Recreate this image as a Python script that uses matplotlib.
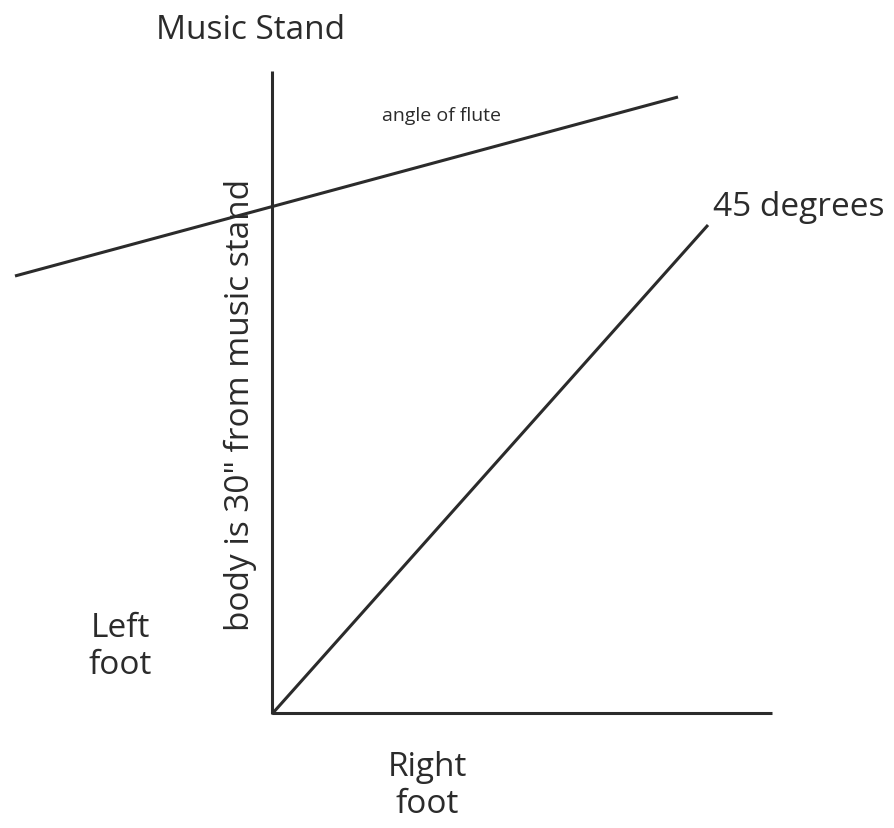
import matplotlib
matplotlib.use('Agg')
import matplotlib.pyplot as plt

# diagram lines in picture pixel coordinates (x, y from top-left)
stand_axis_x = [272, 272]
stand_axis_y = [72, 715]
right_foot_x = [272, 772]
right_foot_y = [714, 714]
diag_x = [272, 708]
diag_y = [715, 226]
flute_x = [15, 678]
flute_y = [277, 98]

labels = {
    'Music Stand': (251, 30),
    'angle of flute': (441, 116),
    '45 degrees': (799, 207),
    'Left\nfoot': (120, 647),
    'Right\nfoot': (427, 786),
}
side_label = 'body is 30" from music stand'

plt.rcParams['font.family'] = ['Open Sans', 'DejaVu Sans']

fig = plt.figure(figsize=(8.94, 8.29), dpi=100)
ax = fig.add_axes([0, 0, 1, 1])
ax.set_xlim(0, 894)
ax.set_ylim(829, 0)
ax.axis('off')

col = '#2b2b2b'
for xs, ys in [(stand_axis_x, stand_axis_y), (right_foot_x, right_foot_y),
               (diag_x, diag_y), (flute_x, flute_y)]:
    ax.plot(xs, ys, color=col, lw=2.2, solid_capstyle='butt')

big = 24
ax.text(*labels['Music Stand'], 'Music Stand', fontsize=big, ha='center', va='center', color=col)
ax.text(*labels['angle of flute'], 'angle of flute', fontsize=14, ha='center', va='center', color=col)
ax.text(*labels['45 degrees'], '45 degrees', fontsize=big, ha='center', va='center', color=col)
ax.text(*labels['Left\nfoot'], 'Left\nfoot', fontsize=big, ha='center', va='center', color=col,
        linespacing=1.15)
ax.text(*labels['Right\nfoot'], 'Right\nfoot', fontsize=big, ha='center', va='center', color=col,
        linespacing=1.15)
ax.text(240, 405, side_label, fontsize=big, rotation=90, ha='center', va='center', color=col)

fig.savefig('out.png', dpi=100)
